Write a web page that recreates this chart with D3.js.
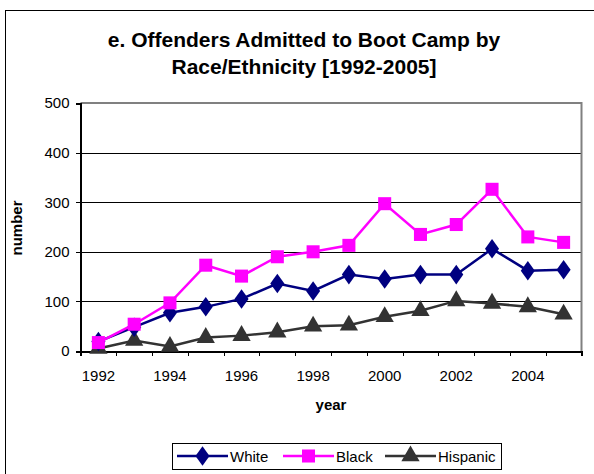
<!DOCTYPE html>
<html lang="en">
<head>
<meta charset="utf-8">
<title>Offenders Admitted to Boot Camp</title>
<script src="https://d3js.org/d3.v7.min.js"></script>
<style>
body{
  margin:0;
  background:#fff;
}
svg text{
  font-family: Arial, "Liberation Sans", sans-serif;
  fill:#000;
}
.axis path, .axis line{
  stroke:#000;
  shape-rendering: crispEdges;
}
.grid line{
  stroke:#000;
  shape-rendering: crispEdges;
}
.grid path{ display:none; }
</style>
</head>
<body>
<div id="chart"></div>
<script>
const years = [1992,1993,1994,1995,1996,1997,1998,1999,2000,2001,2002,2003,2004,2005];
const white = [19,48,77,89,105,136,121,154,145,154,154,206,162,164];
const black = [17,54,97,173,151,190,200,213,297,235,255,326,230,219];
const hispanic = [5,21,9,27,31,38,50,52,69,81,101,96,89,74];
const yTicks = [0,100,200,300,400,500];
const xLabels = [1992,1994,1996,1998,2000,2002,2004];
const seriesNames = ["White","Black","Hispanic"];

var W = 594, H = 474;
var margin = {top:103, left:80.5, right:581.5, bottom:351};

var svg = d3.select("#chart").append("svg")
  .attr("width",W).attr("height",H);

// outer chart border
svg.append("rect")
  .attr("x",5.5).attr("y",10.5)
  .attr("width",620).attr("height",500)
  .attr("fill","none").attr("stroke","#000").attr("stroke-width",1);

var x = d3.scaleBand().domain(years).range([margin.left, margin.right]).padding(0);
var xi = d3.scaleLinear().domain([0,years.length]).range([margin.left, margin.right]);
var y = d3.scaleLinear().domain([0,500]).range([margin.bottom, margin.top]);

// gridlines
svg.append("g").attr("class","grid")
  .attr("transform","translate("+margin.left+",0)")
  .call(d3.axisLeft(y).tickValues(yTicks.slice(1,-1)).tickSize(-(margin.right-margin.left)).tickFormat(""));

// plot border top/right (gray)
svg.append("path")
  .attr("d","M"+margin.left+","+y(500)+"H"+margin.right+"V"+y(0))
  .attr("fill","none").attr("stroke","#808080").attr("stroke-width",2);

// y axis
var ya = svg.append("g").attr("class","axis")
  .attr("transform","translate("+margin.left+",0)")
  .call(d3.axisLeft(y).tickValues(yTicks).tickSize(5).tickPadding(6));
ya.selectAll("text").style("font-size","15px");
ya.select(".domain").attr("stroke-width",2);

// x axis ticks at category boundaries
var xa = svg.append("g").attr("class","axis")
  .attr("transform","translate(0,"+margin.bottom+")")
  .call(d3.axisBottom(xi).ticks(years.length).tickSize(5).tickFormat(""));
xa.select(".domain").attr("stroke-width",2);

// x labels
svg.append("g").selectAll("text")
  .data(xLabels).enter().append("text")
  .attr("x",function(d){ return x(d)+x.bandwidth()/2; })
  .attr("y",381)
  .attr("text-anchor","middle")
  .style("font-size","15px")
  .text(function(d){ return d; });

// titles
svg.append("text").attr("x",304).attr("y",47).attr("text-anchor","middle")
  .style("font-size","21px").style("font-weight","bold")
  .text("e. Offenders Admitted to Boot Camp by");
svg.append("text").attr("x",304).attr("y",74).attr("text-anchor","middle")
  .style("font-size","21px").style("font-weight","bold")
  .text("Race/Ethnicity [1992-2005]");

svg.append("text").attr("x",331).attr("y",410).attr("text-anchor","middle")
  .style("font-size","15px").style("font-weight","bold").text("year");

svg.append("text")
  .attr("transform","translate(22,228) rotate(-90)")
  .attr("text-anchor","middle")
  .style("font-size","15px").style("font-weight","bold").text("number");

// series
var colors = ["#000080","#ff00ff","#333333"];
var symbols = [d3.symbolDiamond, d3.symbolSquare, d3.symbolTriangle];
var symSizes = [110, 170, 145];
var allData = [white, black, hispanic];

var line = d3.line()
  .x(function(d,i){ return x(years[i])+x.bandwidth()/2; })
  .y(function(d){ return y(d); });

// hispanic first, then white, black on top
[2,0,1].forEach(function(s){
  var g = svg.append("g");
  g.append("path").datum(allData[s])
    .attr("d",line)
    .attr("fill","none").attr("stroke",colors[s]).attr("stroke-width",2.5);
  g.selectAll("path.m").data(allData[s]).enter().append("path")
    .attr("class","m")
    .attr("transform",function(d,i){
      return "translate("+(x(years[i])+x.bandwidth()/2)+","+y(d)+")"+(s==0?" scale(1.25,1)":"");
    })
    .attr("d",d3.symbol().type(symbols[s]).size(symSizes[s]))
    .attr("fill",colors[s]);
});

// legend
var lg = svg.append("g");
lg.append("rect").attr("x",172.5).attr("y",443.5).attr("width",329).attr("height",26)
  .attr("fill","#fff").attr("stroke","#000");
var legX = [177,283,385];
seriesNames.forEach(function(n,s){
  lg.append("line").attr("x1",legX[s]).attr("x2",legX[s]+51)
    .attr("y1",456).attr("y2",456)
    .attr("stroke",colors[s]).attr("stroke-width",2.5);
  lg.append("path")
    .attr("transform","translate("+(legX[s]+25.5)+",456)"+(s==0?" scale(1.25,1)":""))
    .attr("d",d3.symbol().type(symbols[s]).size(symSizes[s]))
    .attr("fill",colors[s]);
  lg.append("text").attr("x",legX[s]+53).attr("y",461.5)
    .style("font-size","15px").text(n);
});
</script>
</body>
</html>
